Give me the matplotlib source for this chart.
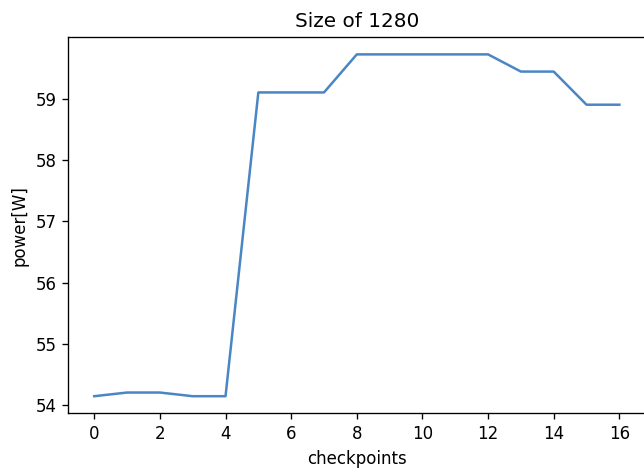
import matplotlib
matplotlib.use("Agg")
import matplotlib.pyplot as plt

# power readings per checkpoint
checkpoints = list(range(17))
power = [54.15, 54.21, 54.21, 54.15, 54.15,
         59.10, 59.10, 59.10,
         59.72, 59.72, 59.72, 59.72, 59.72,
         59.44, 59.44,
         58.90, 58.90]

fig = plt.figure(figsize=(644 / 120, 469 / 120), dpi=120)
ax = fig.add_axes([68 / 644, 1 - 413.3 / 469, 577.6 / 644, 376 / 469])

ax.plot(checkpoints, power, color='#4a86c4', linewidth=1.5)
ax.set_title("Size of 1280")
ax.set_xlabel("checkpoints")
ax.set_ylabel("power[W]")
ax.set_xticks(range(0, 17, 2))
ax.set_yticks(range(54, 60))

fig.savefig("out.png", dpi=120)
